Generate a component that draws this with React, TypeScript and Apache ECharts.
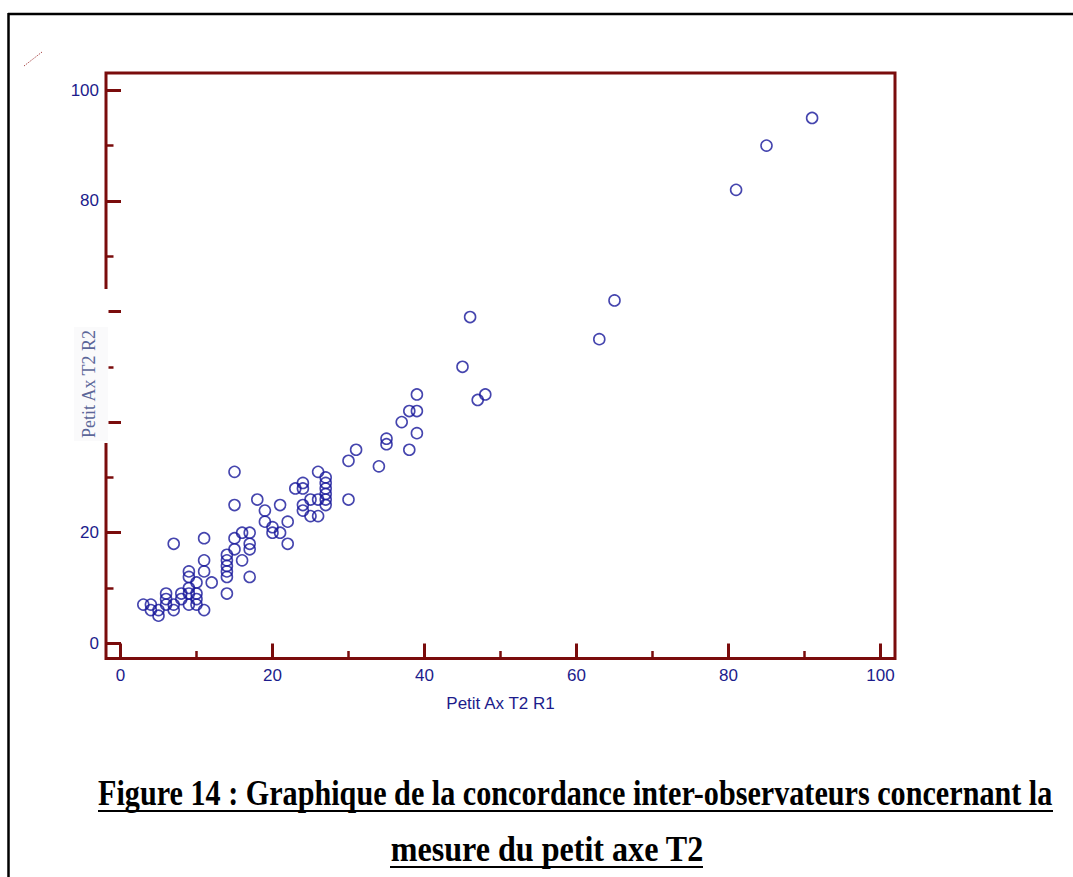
import { useEffect, useRef } from "react";
import * as echarts from "echarts";

const W = 1073;
const H = 877;

// Petit Ax T2 R1 (x) and Petit Ax T2 R2 (y)
const r1Values = [
  3, 4, 4, 5, 5, 6, 6, 6, 7, 7,
  7, 8, 8, 9, 9, 9, 9, 9, 10, 10,
  10, 10, 11, 11, 11, 11, 12, 14, 14, 14,
  14, 14, 14, 15, 15, 15, 15, 16, 16, 17,
  17, 17, 17, 18, 19, 19, 20, 20, 21, 21,
  22, 22, 23, 24, 24, 24, 24, 25, 25, 26,
  26, 26, 27, 27, 27, 27, 27, 27, 30, 30,
  31, 34, 35, 35, 37, 38, 38, 39, 39, 39,
  45, 46, 47, 48, 63, 65, 81, 85, 91,
];
const r2Values = [
  7, 7, 6, 6, 5, 9, 8, 7, 7, 6,
  18, 9, 8, 13, 12, 10, 9, 7, 11, 9,
  8, 7, 19, 15, 13, 6, 11, 16, 15, 14,
  13, 12, 9, 31, 25, 19, 17, 20, 15, 20,
  18, 17, 12, 26, 24, 22, 21, 20, 25, 20,
  22, 18, 28, 29, 28, 25, 24, 26, 23, 31,
  26, 23, 30, 29, 28, 27, 26, 25, 33, 26,
  35, 32, 37, 36, 40, 42, 35, 45, 42, 38,
  50, 59, 44, 45, 55, 62, 82, 90, 95,
];

const xTickValues = [0, 20, 40, 60, 80, 100];
const yHiddenLabels = [40, 60];

const xName = "Petit Ax T2 R1";
const yName = "Petit Ax T2 R2";
const titleLine1 = "Figure 14 : Graphique de la concordance inter-observateurs concernant la";
const titleLine2 = "mesure du petit axe T2";

const AXIS_COLOR = "#7a0c0c";
const LABEL_COLOR = "#1c1c8c";
const POINT_COLOR = "#16169a";

export default function App() {
  const ref = useRef<HTMLDivElement>(null);

  useEffect(() => {
    const chart = echarts.init(ref.current!, null, { renderer: "svg", width: W, height: H });
    const data = r1Values.map((x, i) => [x, r2Values[i]]);

    chart.setOption({
      animation: false,
      backgroundColor: "#ffffff",
      grid: { left: 120.5, right: W - 880.5, top: 90.3, bottom: H - 643.3, containLabel: false },
      xAxis: {
        type: "value",
        min: xTickValues[0],
        max: xTickValues[xTickValues.length - 1],
        interval: 20,
        offset: 15.2,
        axisLine: { show: false, onZero: false },
        axisTick: { show: true, inside: true, length: 15, lineStyle: { color: AXIS_COLOR, width: 3 } },
        minorTick: { show: true, splitNumber: 2, length: 7.5, lineStyle: { color: AXIS_COLOR, width: 2.5 } },
        splitLine: { show: false },
        axisLabel: { color: LABEL_COLOR, fontSize: 17, fontFamily: "Liberation Sans", margin: 8 },
        name: xName,
        nameLocation: "middle",
        nameGap: 36,
        nameTextStyle: { color: LABEL_COLOR, fontSize: 17, fontFamily: "Liberation Sans" },
      },
      yAxis: {
        type: "value",
        min: 0,
        max: 100,
        interval: 20,
        offset: 14.5,
        axisLine: { show: false, onZero: false },
        axisTick: { show: true, inside: true, length: 15, lineStyle: { color: AXIS_COLOR, width: 3 } },
        minorTick: { show: true, splitNumber: 2, length: 7.5, lineStyle: { color: AXIS_COLOR, width: 2.5 } },
        splitLine: { show: false },
        axisLabel: {
          color: LABEL_COLOR,
          fontSize: 17,
          fontFamily: "Liberation Sans",
          margin: 7,
          formatter: (v: number) => (yHiddenLabels.includes(v) ? "" : String(v)),
        },
      },
      series: [
        {
          type: "scatter",
          data,
          symbol: "circle",
          symbolSize: 11,
          itemStyle: { color: "rgba(0,0,0,0)", borderColor: POINT_COLOR, borderWidth: 1.6 },
          z: 5,
        },
      ],
      graphic: [
        // page frame
        { type: "line", shape: { x1: 8, y1: 14, x2: W, y2: 14 }, style: { stroke: "#000", lineWidth: 2.5 }, z: 10 },
        { type: "line", shape: { x1: 8.5, y1: 13, x2: 8.5, y2: H }, style: { stroke: "#000", lineWidth: 2.5 }, z: 10 },
        // small dotted mark
        {
          type: "line",
          shape: { x1: 24, y1: 66, x2: 42, y2: 52 },
          style: { stroke: "#a33a3a", lineWidth: 1, lineDash: [1.2, 1.2] },
          z: 10,
        },
        // plot frame
        {
          type: "rect",
          shape: { x: 106, y: 73, width: 789, height: 585.5 },
          style: { fill: "none", stroke: AXIS_COLOR, lineWidth: 3 },
          z: 50,
        },
        // pasted axis-title patch
        { type: "rect", shape: { x: 55, y: 289, width: 53.5, height: 154 }, style: { fill: "#ffffff" }, z: 60 },
        { type: "rect", shape: { x: 74, y: 327, width: 34, height: 114 }, style: { fill: "#fafafb" }, z: 61 },
        {
          type: "text",
          x: 89,
          y: 384,
          rotation: Math.PI / 2,
          style: {
            text: yName,
            fill: "#5c6799",
            font: '18px "Liberation Serif"',
            textAlign: "center",
            textVerticalAlign: "middle",
          },
          z: 62,
        },
        // caption
        {
          type: "text",
          x: 98,
          y: 793,
          scaleX: 1.006,
          scaleY: 1.2,
          style: {
            text: titleLine1,
            fill: "#000",
            font: 'bold 30px "Liberation Serif"',
            textAlign: "left",
            textVerticalAlign: "middle",
          },
          z: 10,
        },
        { type: "line", shape: { x1: 98, y1: 811, x2: 1053, y2: 811 }, style: { stroke: "#000", lineWidth: 2 }, z: 10 },
        {
          type: "text",
          x: 547,
          y: 849,
          scaleX: 1.07,
          scaleY: 1.2,
          style: {
            text: titleLine2,
            fill: "#000",
            font: 'bold 30px "Liberation Serif"',
            textAlign: "center",
            textVerticalAlign: "middle",
          },
          z: 10,
        },
        { type: "line", shape: { x1: 390, y1: 867, x2: 703, y2: 867 }, style: { stroke: "#000", lineWidth: 2 }, z: 10 },
      ],
    });

    return () => chart.dispose();
  }, []);

  return (
    <div
      ref={ref}
      style={{ position: "absolute", left: 0, top: 0, width: W, height: H, background: "#ffffff" }}
    />
  );
}
